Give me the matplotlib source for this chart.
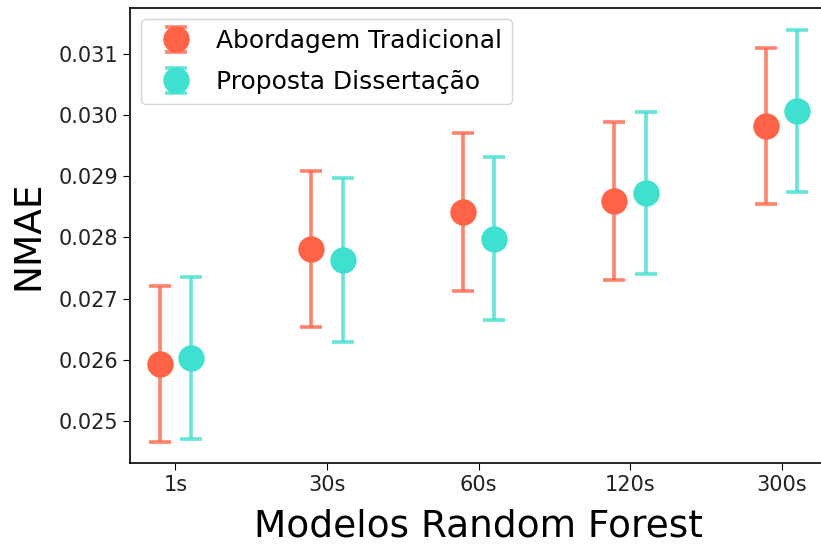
import matplotlib
matplotlib.use("Agg")
import matplotlib.pyplot as plt
from matplotlib.colors import to_rgba
import numpy as np

modelos = ["1s", "30s", "60s", "120s", "300s"]
trad_mean = [0.02593, 0.02781, 0.02842, 0.02860, 0.02982]
trad_err = [0.00128, 0.00128, 0.00129, 0.00129, 0.00128]
prop_mean = [0.02603, 0.02763, 0.02798, 0.02873, 0.03007]
prop_err = [0.00132, 0.00134, 0.00133, 0.00132, 0.00133]
series_names = ["Abordagem Tradicional", "Proposta Dissertação"]

c_red = "#FF6347"
c_cyan = "#40E0D0"

fig = plt.figure(figsize=(8.21, 5.47), dpi=100)
ax = fig.add_axes([130/821, 84/547, (827-130)/821, (463-8)/547])

x = np.arange(len(modelos))
off = 0.105
for xs, m, e, c, lab in [(x - off, trad_mean, trad_err, c_red, series_names[0]),
                         (x + off, prop_mean, prop_err, c_cyan, series_names[1])]:
    ax.errorbar(xs, m, yerr=e, fmt="o", color=c, ecolor=to_rgba(c, 0.8),
                markersize=18, elinewidth=2.6, capsize=7.8, capthick=2.6,
                label=lab)

ax.set_xticks(x)
ax.set_xticklabels(modelos)
ax.set_xlim(-0.30, 4.30)
ax.set_ylim(0.024313, 0.031752)
ax.set_yticks([0.025, 0.026, 0.027, 0.028, 0.029, 0.030, 0.031])
ax.set_yticklabels(["0.025", "0.026", "0.027", "0.028", "0.029", "0.030", "0.031"])
ax.tick_params(labelsize=15, length=5, labelcolor="#222222")
for s in ax.spines.values():
    s.set_linewidth(1.2)
ax.set_ylabel("NMAE", fontsize=27, labelpad=9)
ax.set_xlabel("Modelos Random Forest", fontsize=27, labelpad=10)
ax.legend(loc="upper left", fontsize=17.9, borderaxespad=0.45, labelspacing=0.68,
          handletextpad=0.6)

fig.savefig("out.png", dpi=100)
